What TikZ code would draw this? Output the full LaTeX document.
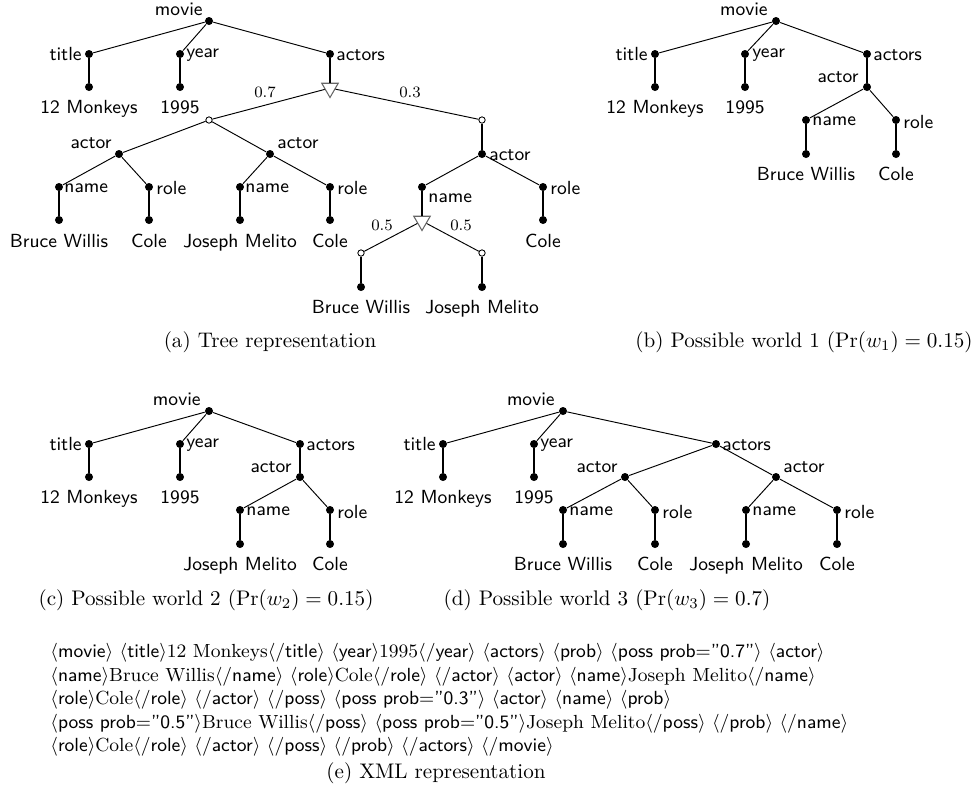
\documentclass[tikz,border=0pt]{standalone}
\usetikzlibrary{shapes.geometric}
\newcommand{\xtag}[1]{$\langle$\textsf{#1}$\rangle$}
\begin{document}
\begin{tikzpicture}[x=0.474pt,y=-0.474pt,
 dot/.style={circle,fill=black,inner sep=0pt,minimum size=3.8pt},
 odot/.style={circle,draw,fill=white,inner sep=0pt,minimum size=3pt,line width=0.4pt},
 tri/.style={regular polygon,regular polygon sides=3,shape border rotate=180,draw=black!60,fill=white,inner sep=0pt,minimum size=9pt,line width=0.5pt},
 ed/.style={line width=0.45pt},
 lf/.style={line width=1.4pt},
 lab/.style={font=\fontsize{9}{10}\selectfont\sffamily,inner sep=0pt},
 pr/.style={font=\fontsize{7.5}{8}\selectfont,inner sep=0pt,anchor=base},
 capt/.style={font=\fontsize{10}{12}\selectfont,inner sep=0pt,anchor=base},
 xml/.style={font=\fontsize{9}{11}\selectfont,inner sep=0pt,anchor=base west},
]
\path[use as bounding box] (0,0) rectangle (979,788);

% ---------------- (a) ----------------
\node[dot] (am) at (209,21) {};
\node[dot] (at) at (89,54) {};
\node[dot] (ay) at (180,54) {};
\node[dot] (aa) at (330,54) {};
\node[dot] (at1) at (89,87) {};
\node[dot] (ay1) at (180,87) {};
\node[tri] (ap) at (330,88) {};
\node[odot] (ao1) at (209,120) {};
\node[odot] (ao2) at (482,120) {};
\node[dot] (ac1) at (119,154) {};
\node[dot] (ac2) at (270,154) {};
\node[dot] (ac3) at (482,154) {};
\node[dot] (an1) at (59,187) {};
\node[dot] (ar1) at (149,187) {};
\node[dot] (an2) at (240,187) {};
\node[dot] (ar2) at (330,187) {};
\node[dot] (an3) at (422,187) {};
\node[dot] (ar3) at (543,187) {};
\node[dot] (an1l) at (59,220) {};
\node[dot] (ar1l) at (149,220) {};
\node[dot] (an2l) at (240,220) {};
\node[dot] (ar2l) at (330,220) {};
\node[dot] (ar3l) at (543,220) {};
\node[tri] (aq) at (422,221) {};
\node[odot] (aq1) at (361,253) {};
\node[odot] (aq2) at (482,253) {};
\node[dot] (aq1l) at (361,287) {};
\node[dot] (aq2l) at (482,287) {};

\draw[ed] (am) -- (at);
\draw[ed] (am) -- (ay);
\draw[ed] (am) -- (aa);
\draw[lf] (at) -- (at1);
\draw[lf] (ay) -- (ay1);
\draw[lf] (aa) -- (ap);
\draw[ed] (ap) -- (ao1);
\draw[ed] (ap) -- (ao2);
\draw[ed] (ao1) -- (ac1);
\draw[ed] (ao1) -- (ac2);
\draw[lf] (ao2) -- (ac3);
\draw[ed] (ac1) -- (an1);
\draw[ed] (ac1) -- (ar1);
\draw[ed] (ac2) -- (an2);
\draw[ed] (ac2) -- (ar2);
\draw[ed] (ac3) -- (an3);
\draw[ed] (ac3) -- (ar3);
\draw[lf] (an1) -- (an1l);
\draw[lf] (ar1) -- (ar1l);
\draw[lf] (an2) -- (an2l);
\draw[lf] (ar2) -- (ar2l);
\draw[lf] (ar3) -- (ar3l);
\draw[lf] (an3) -- (aq);
\draw[ed] (aq) -- (aq1);
\draw[ed] (aq) -- (aq2);
\draw[lf] (aq1) -- (aq1l);
\draw[lf] (aq2) -- (aq2l);

\node[lab,anchor=base east] (aLm) at (203,15) {movie};
\node[lab,anchor=base east] (aLt) at (82,60) {title};
\node[lab,anchor=base west] (aLy) at (186,57) {year};
\node[lab,anchor=base west] (aLa) at (336,60) {actors};
\node[lab,anchor=base] (aLt1) at (89,113) {12 Monkeys};
\node[lab,anchor=base] (aLy1) at (180,113) {1995};
\node[pr] (aP7) at (265,97) {0.7};
\node[pr] (aP3) at (410,97) {0.3};
\node[lab,anchor=base east] (aLc1) at (112,148) {actor};
\node[lab,anchor=base west] (aLc2) at (277,148) {actor};
\node[lab,anchor=base west] (aLc3) at (489,160) {actor};
\node[lab,anchor=base west] (aLn1) at (64,192) {name};
\node[lab,anchor=base west] (aLr1) at (156,194) {role};
\node[lab,anchor=base west] (aLn2) at (245,192) {name};
\node[lab,anchor=base west] (aLr2) at (337,194) {role};
\node[lab,anchor=base west] (aLn3) at (428,202) {name};
\node[lab,anchor=base west] (aLr3) at (550,194) {role};
\node[lab,anchor=base] (aLn1l) at (59,247) {Bruce Willis};
\node[lab,anchor=base] (aLr1l) at (149,247) {Cole};
\node[lab,anchor=base] (aLn2l) at (240,247) {Joseph Melito};
\node[lab,anchor=base] (aLr2l) at (330,247) {Cole};
\node[lab,anchor=base] (aLr3l) at (543,247) {Cole};
\node[pr] (aP5a) at (382,230) {0.5};
\node[pr] (aP5b) at (461,230) {0.5};
\node[lab,anchor=base] (aLq1) at (361,313) {Bruce Willis};
\node[lab,anchor=base] (aLq2) at (482,313) {Joseph Melito};
\node[capt] (capa) at (270,347) {(a) Tree representation};

% ---------------- (b) ----------------
\node[dot] (bm) at (776,21) {};
\node[dot] (bt) at (655,54) {};
\node[dot] (by) at (745,54) {};
\node[dot] (ba) at (867,54) {};
\node[dot] (bt1) at (655,87) {};
\node[dot] (by1) at (745,87) {};
\node[dot] (bc) at (867,87) {};
\node[dot] (bn) at (806,120) {};
\node[dot] (br) at (896,120) {};
\node[dot] (bnl) at (806,154) {};
\node[dot] (brl) at (896,154) {};
\draw[ed] (bm) -- (bt);
\draw[ed] (bm) -- (by);
\draw[ed] (bm) -- (ba);
\draw[lf] (bt) -- (bt1);
\draw[lf] (by) -- (by1);
\draw[lf] (ba) -- (bc);
\draw[ed] (bc) -- (bn);
\draw[ed] (bc) -- (br);
\draw[lf] (bn) -- (bnl);
\draw[lf] (br) -- (brl);
\node[lab,anchor=base east] (bLm) at (768,15) {movie};
\node[lab,anchor=base east] (bLt) at (648,60) {title};
\node[lab,anchor=base west] (bLy) at (752,57) {year};
\node[lab,anchor=base west] (bLa) at (873,60) {actors};
\node[lab,anchor=base] (bLt1) at (655,113) {12 Monkeys};
\node[lab,anchor=base] (bLy1) at (745,113) {1995};
\node[lab,anchor=base east] (bLc) at (859,82) {actor};
\node[lab,anchor=base west] (bLn) at (812,125) {name};
\node[lab,anchor=base west] (bLr) at (903,128) {role};
\node[lab,anchor=base] (bLnl) at (806,180) {Bruce Willis};
\node[lab,anchor=base] (bLrl) at (896,180) {Cole};
\node[capt] (capb) at (804,347) {(b) Possible world 1 ($\Pr(w_1)=0.15$)};

% ---------------- (c) ----------------
\node[dot] (cm) at (209,411) {};
\node[dot] (ct) at (89,444) {};
\node[dot] (cy) at (180,444) {};
\node[dot] (ca) at (300,444) {};
\node[dot] (ct1) at (89,477) {};
\node[dot] (cy1) at (180,477) {};
\node[dot] (cc) at (300,477) {};
\node[dot] (cn) at (240,510) {};
\node[dot] (cr) at (330,510) {};
\node[dot] (cnl) at (240,544) {};
\node[dot] (crl) at (330,544) {};
\draw[ed] (cm) -- (ct);
\draw[ed] (cm) -- (cy);
\draw[ed] (cm) -- (ca);
\draw[lf] (ct) -- (ct1);
\draw[lf] (cy) -- (cy1);
\draw[lf] (ca) -- (cc);
\draw[ed] (cc) -- (cn);
\draw[ed] (cc) -- (cr);
\draw[lf] (cn) -- (cnl);
\draw[lf] (cr) -- (crl);
\node[lab,anchor=base east] (cLm) at (201,405) {movie};
\node[lab,anchor=base east] (cLt) at (82,450) {title};
\node[lab,anchor=base west] (cLy) at (186,447) {year};
\node[lab,anchor=base west] (cLa) at (306,450) {actors};
\node[lab,anchor=base] (cLt1) at (89,503) {12 Monkeys};
\node[lab,anchor=base] (cLy1) at (180,503) {1995};
\node[lab,anchor=base east] (cLc) at (292,472) {actor};
\node[lab,anchor=base west] (cLn) at (246,515) {name};
\node[lab,anchor=base west] (cLr) at (337,518) {role};
\node[lab,anchor=base] (cLnl) at (240,570) {Joseph Melito};
\node[lab,anchor=base] (cLrl) at (330,570) {Cole};
\node[capt] (capc) at (206,605) {(c) Possible world 2 ($\Pr(w_2)=0.15$)};

% ---------------- (d) ----------------
\node[dot] (dm) at (563,411) {};
\node[dot] (dt) at (443,444) {};
\node[dot] (dy) at (534,444) {};
\node[dot] (da) at (716,444) {};
\node[dot] (dt1) at (443,477) {};
\node[dot] (dy1) at (534,477) {};
\node[dot] (dc1) at (625,477) {};
\node[dot] (dc2) at (776,477) {};
\node[dot] (dn1) at (563,510) {};
\node[dot] (dr1) at (655,510) {};
\node[dot] (dn2) at (746,510) {};
\node[dot] (dr2) at (837,510) {};
\node[dot] (dn1l) at (563,544) {};
\node[dot] (dr1l) at (655,544) {};
\node[dot] (dn2l) at (746,544) {};
\node[dot] (dr2l) at (837,544) {};
\draw[ed] (dm) -- (dt);
\draw[ed] (dm) -- (dy);
\draw[ed] (dm) -- (da);
\draw[lf] (dt) -- (dt1);
\draw[lf] (dy) -- (dy1);
\draw[ed] (da) -- (dc1);
\draw[ed] (da) -- (dc2);
\draw[ed] (dc1) -- (dn1);
\draw[ed] (dc1) -- (dr1);
\draw[ed] (dc2) -- (dn2);
\draw[ed] (dc2) -- (dr2);
\draw[lf] (dn1) -- (dn1l);
\draw[lf] (dr1) -- (dr1l);
\draw[lf] (dn2) -- (dn2l);
\draw[lf] (dr2) -- (dr2l);
\node[lab,anchor=base east] (dLm) at (555,405) {movie};
\node[lab,anchor=base east] (dLt) at (436,450) {title};
\node[lab,anchor=base west] (dLy) at (540,447) {year};
\node[lab,anchor=base west] (dLa) at (722,450) {actors};
\node[lab,anchor=base] (dLt1) at (443,503) {12 Monkeys};
\node[lab,anchor=base] (dLy1) at (534,503) {1995};
\node[lab,anchor=base east] (dLc1) at (618,472) {actor};
\node[lab,anchor=base west] (dLc2) at (783,472) {actor};
\node[lab,anchor=base west] (dLn1) at (569,515) {name};
\node[lab,anchor=base west] (dLr1) at (662,518) {role};
\node[lab,anchor=base west] (dLn2) at (752,515) {name};
\node[lab,anchor=base west] (dLr2) at (844,518) {role};
\node[lab,anchor=base] (dLn1l) at (563,570) {Bruce Willis};
\node[lab,anchor=base] (dLr1l) at (655,570) {Cole};
\node[lab,anchor=base] (dLn2l) at (746,570) {Joseph Melito};
\node[lab,anchor=base] (dLr2l) at (837,570) {Cole};
\node[capt] (capd) at (607,605) {(d) Possible world 3 ($\Pr(w_3)=0.7$)};

% ---------------- (e) ----------------
\node[xml] (x1) at (50,657) {\xtag{movie} \xtag{title}12 Monkeys\xtag{/title} \xtag{year}1995\xtag{/year} \xtag{actors} \xtag{prob} \xtag{poss prob$=$''0.7''} \xtag{actor}};
\node[xml] (x2) at (50,681) {\xtag{name}Bruce Willis\xtag{/name} \xtag{role}Cole\xtag{/role} \xtag{/actor} \xtag{actor} \xtag{name}Joseph Melito\xtag{/name}};
\node[xml] (x3) at (50,704) {\xtag{role}Cole\xtag{/role} \xtag{/actor} \xtag{/poss} \xtag{poss prob$=$''0.3''} \xtag{actor} \xtag{name} \xtag{prob}};
\node[xml] (x4) at (50,728) {\xtag{poss prob$=$''0.5''}Bruce Willis\xtag{/poss} \xtag{poss prob$=$''0.5''}Joseph Melito\xtag{/poss} \xtag{/prob} \xtag{/name}};
\node[xml] (x5) at (50,751) {\xtag{role}Cole\xtag{/role} \xtag{/actor} \xtag{/poss} \xtag{/prob} \xtag{/actors} \xtag{/movie}};
\node[capt] (cape) at (436,778) {(e) XML representation};
\end{tikzpicture}
\end{document}
